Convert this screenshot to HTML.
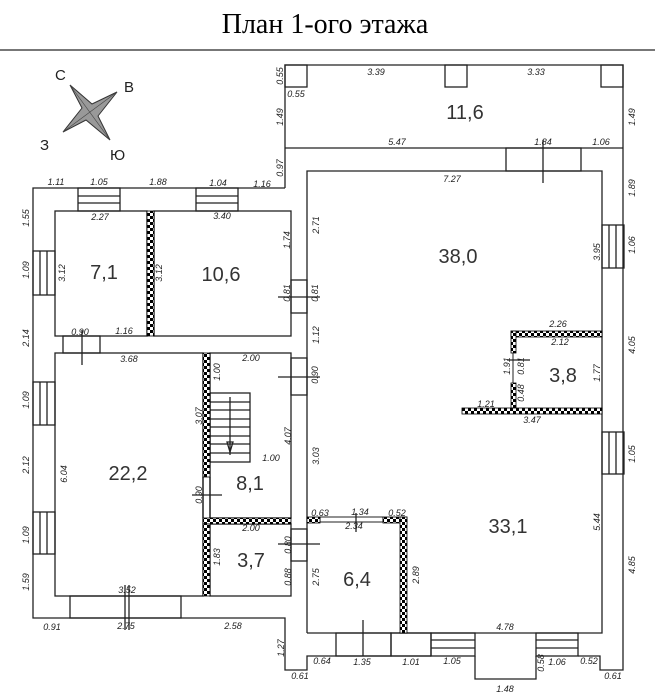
<!DOCTYPE html>
<html><head><meta charset="utf-8"><style>
html,body{margin:0;padding:0;background:#fff;}
svg{display:block}
.t{font-family:"Liberation Sans","DejaVu Sans",sans-serif;font-style:italic;font-size:9px;fill:#222}
.big{font-family:"Liberation Sans",sans-serif;font-size:20px;fill:#333}
.c{font-family:"Liberation Sans","DejaVu Sans",sans-serif;font-size:15px;fill:#222}
</style></head><body>
<svg width="655" height="697" viewBox="0 0 655 697" xmlns="http://www.w3.org/2000/svg">
<defs>
<pattern id="h" width="6" height="6" patternUnits="userSpaceOnUse">
<rect width="6" height="6" fill="#fff"/><rect width="3" height="3" fill="#000"/><rect x="3" y="3" width="3" height="3" fill="#000"/>
</pattern>
</defs>
<text x="325" y="33" text-anchor="middle" font-family="Liberation Serif, serif" font-size="28" fill="#000">План 1-ого этажа</text>
<line x1="0" y1="50" x2="655" y2="50" stroke="#777" stroke-width="2"/>

<!-- compass -->
<polygon points="70,85 92,104 117,92 98,116 110,140 86,120 63,132 82,108" fill="#999" stroke="#333" stroke-width="1"/>
<line x1="70" y1="85" x2="110" y2="140" stroke="#444" stroke-width="0.6"/>
<line x1="63" y1="132" x2="117" y2="92" stroke="#444" stroke-width="0.6"/>
<text class="c" x="55" y="80">С</text><text class="c" x="124" y="92">В</text>
<text class="c" x="40" y="150">З</text><text class="c" x="110" y="160">Ю</text>

<g fill="none" stroke="#222" stroke-width="1.3">
<polyline points="285,188 285,65 623,65 623,670 600,670 600,656 578,656"/>
<polyline points="536,656 536,679 475,679 475,656"/>
<polyline points="431,656 307,656 307,670 285,670 285,618 33,618 33,188 285,188"/>
<line x1="285" y1="148" x2="623" y2="148"/>
<rect x="285" y="65" width="22" height="22"/><rect x="445" y="65" width="22" height="22"/><rect x="601" y="65" width="22" height="22"/>
<rect x="506" y="148" width="75" height="23"/>
<line x1="543" y1="140" x2="543" y2="183"/>
<polyline points="307,633 307,171 602,171 602,633 307,633"/>
<rect x="55" y="211" width="92" height="125"/>
<rect x="154" y="211" width="137" height="125"/>
<rect x="55" y="353" width="148" height="243"/>
<rect x="210" y="353" width="81" height="165"/>
<rect x="210" y="524" width="81" height="72"/>
<line x1="203" y1="477" x2="203" y2="518"/><line x1="210" y1="477" x2="210" y2="518"/>
<rect x="78" y="188" width="42" height="23"/><line x1="78" y1="196" x2="120" y2="196"/><line x1="78" y1="203" x2="120" y2="203"/>
<rect x="196" y="188" width="42" height="23"/><line x1="196" y1="196" x2="238" y2="196"/><line x1="196" y1="203" x2="238" y2="203"/>
<rect x="33" y="251" width="22" height="44"/><line x1="40" y1="251" x2="40" y2="295"/><line x1="47" y1="251" x2="47" y2="295"/>
<rect x="33" y="382" width="22" height="43"/><line x1="40" y1="382" x2="40" y2="425"/><line x1="47" y1="382" x2="47" y2="425"/>
<rect x="33" y="512" width="22" height="42"/><line x1="40" y1="512" x2="40" y2="554"/><line x1="47" y1="512" x2="47" y2="554"/>
<rect x="602" y="225" width="22" height="43"/><line x1="609" y1="225" x2="609" y2="268"/><line x1="616" y1="225" x2="616" y2="268"/>
<rect x="602" y="432" width="22" height="42"/><line x1="609" y1="432" x2="609" y2="474"/><line x1="616" y1="432" x2="616" y2="474"/>
<rect x="70" y="596" width="111" height="22"/>
<line x1="125" y1="585" x2="125" y2="630"/><line x1="129" y1="585" x2="129" y2="630"/>
<rect x="336" y="633" width="55" height="23"/><line x1="363" y1="620" x2="363" y2="656"/>
<rect x="391" y="633" width="40" height="23"/>
<rect x="431" y="633" width="44" height="23"/><line x1="431" y1="640" x2="475" y2="640"/><line x1="431" y1="648" x2="475" y2="648"/>
<rect x="536" y="633" width="42" height="23"/><line x1="536" y1="640" x2="578" y2="640"/><line x1="536" y1="648" x2="578" y2="648"/>
<rect x="63" y="336" width="37" height="17"/><line x1="82" y1="330" x2="82" y2="365"/>
<rect x="291" y="280" width="16" height="33"/><line x1="278" y1="297" x2="320" y2="297"/>
<rect x="291" y="358" width="16" height="37"/><line x1="278" y1="377" x2="320" y2="377"/>
<rect x="291" y="529" width="16" height="32"/><line x1="278" y1="544" x2="320" y2="544"/>
<line x1="192" y1="495" x2="222" y2="495"/>
<line x1="356" y1="513" x2="356" y2="532"/>
<line x1="507" y1="360" x2="530" y2="360"/>
<rect x="210" y="393" width="40" height="69"/>
<line x1="210" y1="402" x2="250" y2="402"/><line x1="210" y1="410" x2="250" y2="410"/><line x1="210" y1="419" x2="250" y2="419"/><line x1="210" y1="427" x2="250" y2="427"/><line x1="210" y1="436" x2="250" y2="436"/><line x1="210" y1="444" x2="250" y2="444"/><line x1="210" y1="453" x2="250" y2="453"/>
<line x1="230" y1="397" x2="230" y2="455"/>
<polygon points="227,442 233,442 230,452"/>
<rect x="320" y="517" width="63" height="5" stroke-width="1"/>
</g>
<g fill="url(#h)" stroke="#000" stroke-width="0.8">
<rect x="147" y="211" width="7" height="125"/>
<rect x="203" y="353" width="7" height="124"/>
<rect x="203" y="518" width="88" height="6"/>
<rect x="203" y="524" width="7" height="72"/>
<rect x="307" y="517" width="13" height="6"/>
<rect x="383" y="517" width="24" height="6"/>
<rect x="400" y="517" width="7" height="116"/>
<rect x="511" y="331" width="91" height="6"/>
<rect x="511" y="331" width="5" height="22"/>
<rect x="511" y="383" width="5" height="25"/>
<rect x="462" y="408" width="140" height="6"/>
</g>
<line x1="513" y1="353" x2="513" y2="383" stroke="#222"/>

<g class="big" text-anchor="middle">
<text x="465" y="119">11,6</text><text x="458" y="263">38,0</text>
<text x="104" y="279">7,1</text><text x="221" y="281">10,6</text>
<text x="128" y="480">22,2</text><text x="250" y="490">8,1</text>
<text x="251" y="567">3,7</text><text x="357" y="586">6,4</text>
<text x="508" y="533">33,1</text><text x="563" y="382">3,8</text>
</g>

<g class="t" text-anchor="middle">
<text x="296" y="97">0.55</text><text x="376" y="75">3.39</text><text x="536" y="75">3.33</text>
<text x="397" y="145">5.47</text><text x="543" y="145">1.84</text><text x="601" y="145">1.06</text>
<text x="452" y="182">7.27</text>
<text x="56" y="185">1.11</text><text x="99" y="185">1.05</text><text x="158" y="185">1.88</text><text x="218" y="186">1.04</text><text x="262" y="187">1.16</text>
<text x="100" y="220">2.27</text><text x="222" y="219">3.40</text>
<text x="80" y="335">0.90</text><text x="124" y="334">1.16</text>
<text x="129" y="362">3.68</text><text x="251" y="361">2.00</text><text x="271" y="461">1.00</text>
<text x="320" y="516">0.63</text><text x="360" y="515">1.34</text><text x="397" y="516">0.52</text>
<text x="354" y="529">2.34</text><text x="251" y="531">2.00</text>
<text x="127" y="593">3.52</text>
<text x="52" y="630">0.91</text><text x="126" y="629">2.75</text><text x="233" y="629">2.58</text>
<text x="300" y="679">0.61</text><text x="322" y="664">0.64</text><text x="362" y="665">1.35</text><text x="411" y="665">1.01</text><text x="452" y="664">1.05</text>
<text x="557" y="665">1.06</text><text x="589" y="664">0.52</text><text x="505" y="692">1.48</text><text x="613" y="679">0.61</text>
<text x="505" y="630">4.78</text>
<text x="558" y="327">2.26</text><text x="560" y="345">2.12</text><text x="486" y="407">1.21</text><text x="532" y="423">3.47</text>
</g>
<g class="t" text-anchor="middle">
<text transform="translate(283,76) rotate(-90)">0.55</text>
<text transform="translate(283,117) rotate(-90)">1.49</text>
<text transform="translate(635,117) rotate(-90)">1.49</text>
<text transform="translate(283,168) rotate(-90)">0.97</text>
<text transform="translate(635,188) rotate(-90)">1.89</text>
<text transform="translate(319,225) rotate(-90)">2.71</text>
<text transform="translate(600,252) rotate(-90)">3.95</text>
<text transform="translate(635,245) rotate(-90)">1.06</text>
<text transform="translate(29,218) rotate(-90)">1.55</text>
<text transform="translate(65,273) rotate(-90)">3.12</text>
<text transform="translate(162,273) rotate(-90)">3.12</text>
<text transform="translate(290,240) rotate(-90)">1.74</text>
<text transform="translate(290,293) rotate(-90)">0.81</text>
<text transform="translate(318,293) rotate(-90)">0.81</text>
<text transform="translate(29,270) rotate(-90)">1.09</text>
<text transform="translate(29,338) rotate(-90)">2.14</text>
<text transform="translate(319,335) rotate(-90)">1.12</text>
<text transform="translate(220,372) rotate(-90)">1.00</text>
<text transform="translate(318,375) rotate(-90)">0.90</text>
<text transform="translate(202,416) rotate(-90)">3.07</text>
<text transform="translate(29,400) rotate(-90)">1.09</text>
<text transform="translate(291,436) rotate(-90)">4.07</text>
<text transform="translate(319,456) rotate(-90)">3.03</text>
<text transform="translate(67,474) rotate(-90)">6.04</text>
<text transform="translate(29,465) rotate(-90)">2.12</text>
<text transform="translate(202,495) rotate(-90)">0.90</text>
<text transform="translate(220,557) rotate(-90)">1.83</text>
<text transform="translate(291,545) rotate(-90)">0.80</text>
<text transform="translate(291,577) rotate(-90)">0.88</text>
<text transform="translate(319,577) rotate(-90)">2.75</text>
<text transform="translate(419,575) rotate(-90)">2.89</text>
<text transform="translate(29,535) rotate(-90)">1.09</text>
<text transform="translate(29,582) rotate(-90)">1.59</text>
<text transform="translate(284,648) rotate(-90)">1.27</text>
<text transform="translate(544,663) rotate(-90)">0.58</text>
<text transform="translate(600,522) rotate(-90)">5.44</text>
<text transform="translate(635,565) rotate(-90)">4.85</text>
<text transform="translate(635,454) rotate(-90)">1.05</text>
<text transform="translate(635,345) rotate(-90)">4.05</text>
<text transform="translate(600,373) rotate(-90)">1.77</text>
<text transform="translate(510,366) rotate(-90)">1.91</text>
<text transform="translate(524,366) rotate(-90)">0.81</text>
<text transform="translate(524,393) rotate(-90)">0.48</text>
</g>
</svg>
</body></html>
